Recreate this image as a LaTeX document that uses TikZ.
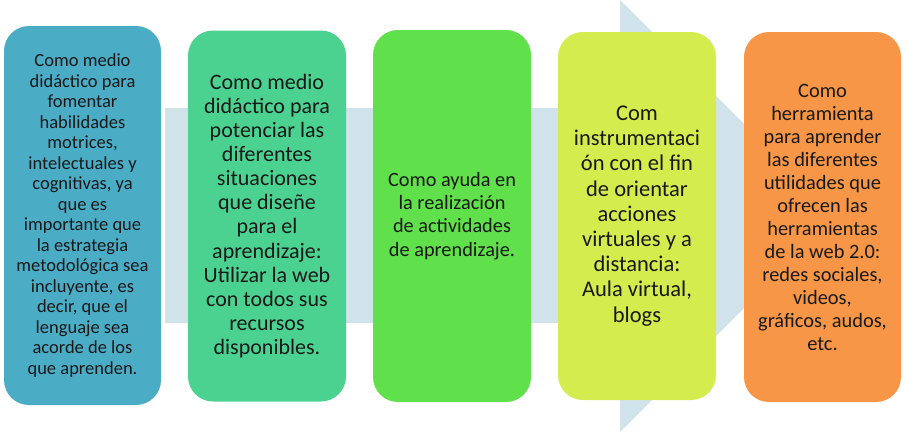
\documentclass[tikz,border=0pt]{standalone}
\usepackage{fontspec}
\setmainfont{Carlito}
\definecolor{arrowc}{HTML}{D1E3EA}
\definecolor{c1}{HTML}{4BACC6}
\definecolor{c2}{HTML}{4BD291}
\definecolor{c3}{HTML}{60E04A}
\definecolor{c4}{HTML}{D4EC4E}
\definecolor{c5}{HTML}{F79646}
\begin{document}
\begin{tikzpicture}[x=1pt,y=-1pt,
  stagebox/.style={rounded corners=25pt, inner sep=0pt, align=center, text=black!90},
]
\useasboundingbox (0,0) rectangle (907,432);
% background arrow
\fill[arrowc] (165,108) -- (620,108) -- (620,0) -- (836,216) -- (620,432) -- (620,323) -- (165,323) -- cycle;
% boxes
\node[stagebox, fill=c1, minimum width=157pt, minimum height=379pt,
  font=\fontsize{18.5}{20.5}\selectfont] (b1) at (82.5,215.5)
  {Como medio\\didáctico para\\fomentar\\habilidades\\motrices,\\intelectuales  y\\cognitivas, ya\\que es\\importante que\\la estrategia\\metodológica sea\\incluyente, es\\decir, que el\\lenguaje sea\\acorde de los\\que aprenden.};
\node[stagebox, fill=c2, minimum width=158pt, minimum height=371pt,
  font=\fontsize{22}{24.1}\selectfont] (b2) at (267,216)
  {Como medio\\didáctico para\\potenciar las\\diferentes\\situaciones\\que diseñe\\para el\\aprendizaje:\\Utilizar la web\\con todos sus\\recursos\\disponibles.};
\node[stagebox, fill=c3, minimum width=158pt, minimum height=372pt,
  font=\fontsize{20.3}{23.3}\selectfont] (b3) at (452,216)
  {Como ayuda en\\la realización\\de actividades\\de aprendizaje.};
\node[stagebox, fill=c4, minimum width=158pt, minimum height=368pt,
  font=\fontsize{22.5}{25.2}\selectfont] (b4) at (637,216)
  {Com\\instrumentaci\\ón con el fin\\de orientar\\acciones\\virtuales y a\\distancia:\\Aula virtual,\\blogs};
\node[stagebox, fill=c5, minimum width=157pt, minimum height=370pt,
  font=\fontsize{20.4}{23}\selectfont] (b5) at (822.5,217)
  {Como\\herramienta\\para aprender\\las diferentes\\utilidades que\\ofrecen las\\herramientas\\de la web 2.0:\\redes sociales,\\videos,\\gráficos, audos,\\etc.};
\end{tikzpicture}
\end{document}
